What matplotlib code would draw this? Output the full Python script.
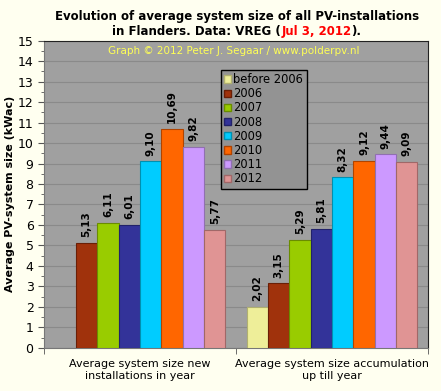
import numpy as np
import matplotlib.pyplot as plt
from matplotlib.patches import Patch

series = ['before 2006', '2006', '2007', '2008', '2009', '2010', '2011', '2012']
categories = ['Average system size new\ninstallations in year',
              'Average system size accumulation\nup till year']
new_inst = [np.nan, 5.13, 6.11, 6.01, 9.10, 10.69, 9.82, 5.77]
accum = [2.02, 3.15, 5.29, 5.81, 8.32, 9.12, 9.44, 9.09]
colors = ['#eeee99', '#a0320c', '#99cc00', '#333399', '#00ccff', '#ff6600', '#cc99ff', '#e09494']
edges = ['#b0b070', '#6a1f06', '#6a8c00', '#22226a', '#0090b0', '#b04400', '#9070b0', '#a06868']

fig = plt.figure(figsize=(4.41, 3.91), dpi=100, facecolor='#fffff0')
ax = fig.add_axes([0.0998, 0.11, 0.8707, 0.7864])
ax.set_facecolor('#a0a0a0')

nser = len(series)
group_w = 0.89
bw = group_w / nser
for i in range(nser):
    vals = [new_inst[i], accum[i]]
    xs = np.arange(2) - group_w / 2 + bw * (i + 0.5)
    bars = ax.bar(xs, vals, width=bw, color=colors[i], edgecolor=edges[i], linewidth=0.8, zorder=3)
    for x, v in zip(xs, vals):
        if np.isnan(v):
            continue
        ax.annotate(f'{v:.2f}'.replace('.', ','), (x, v), xytext=(0, 4), textcoords='offset points',
                    ha='center', va='bottom', rotation=90, fontsize=7.5, fontweight='bold', zorder=5)

ax.set_xlim(-0.5, 1.5)
ax.set_ylim(0, 15)
ax.set_yticks(range(0, 16))
ax.set_yticks(np.arange(0, 15.5, 0.5), minor=True)
ax.set_xticks([0, 1])
ax.set_xticklabels(categories, fontsize=8)
ax.set_xticks([-0.5, 0.5, 1.5], minor=True)
ax.tick_params(axis='x', which='major', length=0, pad=8)
ax.tick_params(axis='x', which='minor', length=4, direction='out', color='#555555')
ax.tick_params(axis='y', which='major', length=4, labelsize=9, color='#555555')
ax.tick_params(axis='y', which='minor', length=2, color='#555555')
ax.grid(axis='y', color='#8a8a8a', linewidth=0.8, zorder=0)
ax.set_axisbelow(True)
for s in ['top', 'right']:
    ax.spines[s].set_color('#222222')
for s in ['left', 'bottom']:
    ax.spines[s].set_color('#777777')

ax.set_ylabel('Average PV-system size (kWac)', fontsize=8, fontweight='bold', labelpad=2)

handles = [Patch(facecolor=c, edgecolor=e) for c, e in zip(colors, edges)]
leg = ax.legend(handles, series, loc='upper left', bbox_to_anchor=(0.46, 0.905), fontsize=8.3,
                frameon=True, fancybox=False, handlelength=0.6, handleheight=0.6,
                handletextpad=0.2, labelspacing=0.1, borderpad=0.3, borderaxespad=0)
leg.get_frame().set_facecolor('#939393')
leg.get_frame().set_edgecolor('black')
leg.get_frame().set_alpha(1)
leg.set_zorder(6)

ax.text(0.495, 0.965, 'Graph \u00a9 2012 Peter J. Segaar / www.polderpv.nl', transform=ax.transAxes,
        ha='center', va='center', fontsize=7.5, color='#ffff55')

# title, second line with red date
tfont = dict(fontsize=8.5, fontweight='bold')
fig.text(0.537, 0.958, 'Evolution of average system size of all PV-installations', ha='center', va='center', **tfont)
parts = [('in Flanders. Data: VREG (', 'black'), ('Jul 3, 2012', 'red'), (').', 'black')]
r = fig.canvas.get_renderer()
widths = []
for t, c in parts:
    tmp = fig.text(0, 0, t, **tfont)
    widths.append(tmp.get_window_extent(renderer=r).width)
    tmp.remove()
x0 = 0.537 * fig.bbox.width - sum(widths) / 2
for (t, c), w in zip(parts, widths):
    fig.text(x0 / fig.bbox.width, 0.92, t, ha='left', va='center', color=c, **tfont)
    x0 += w

fig.savefig('out.png', dpi=100, facecolor=fig.get_facecolor())
